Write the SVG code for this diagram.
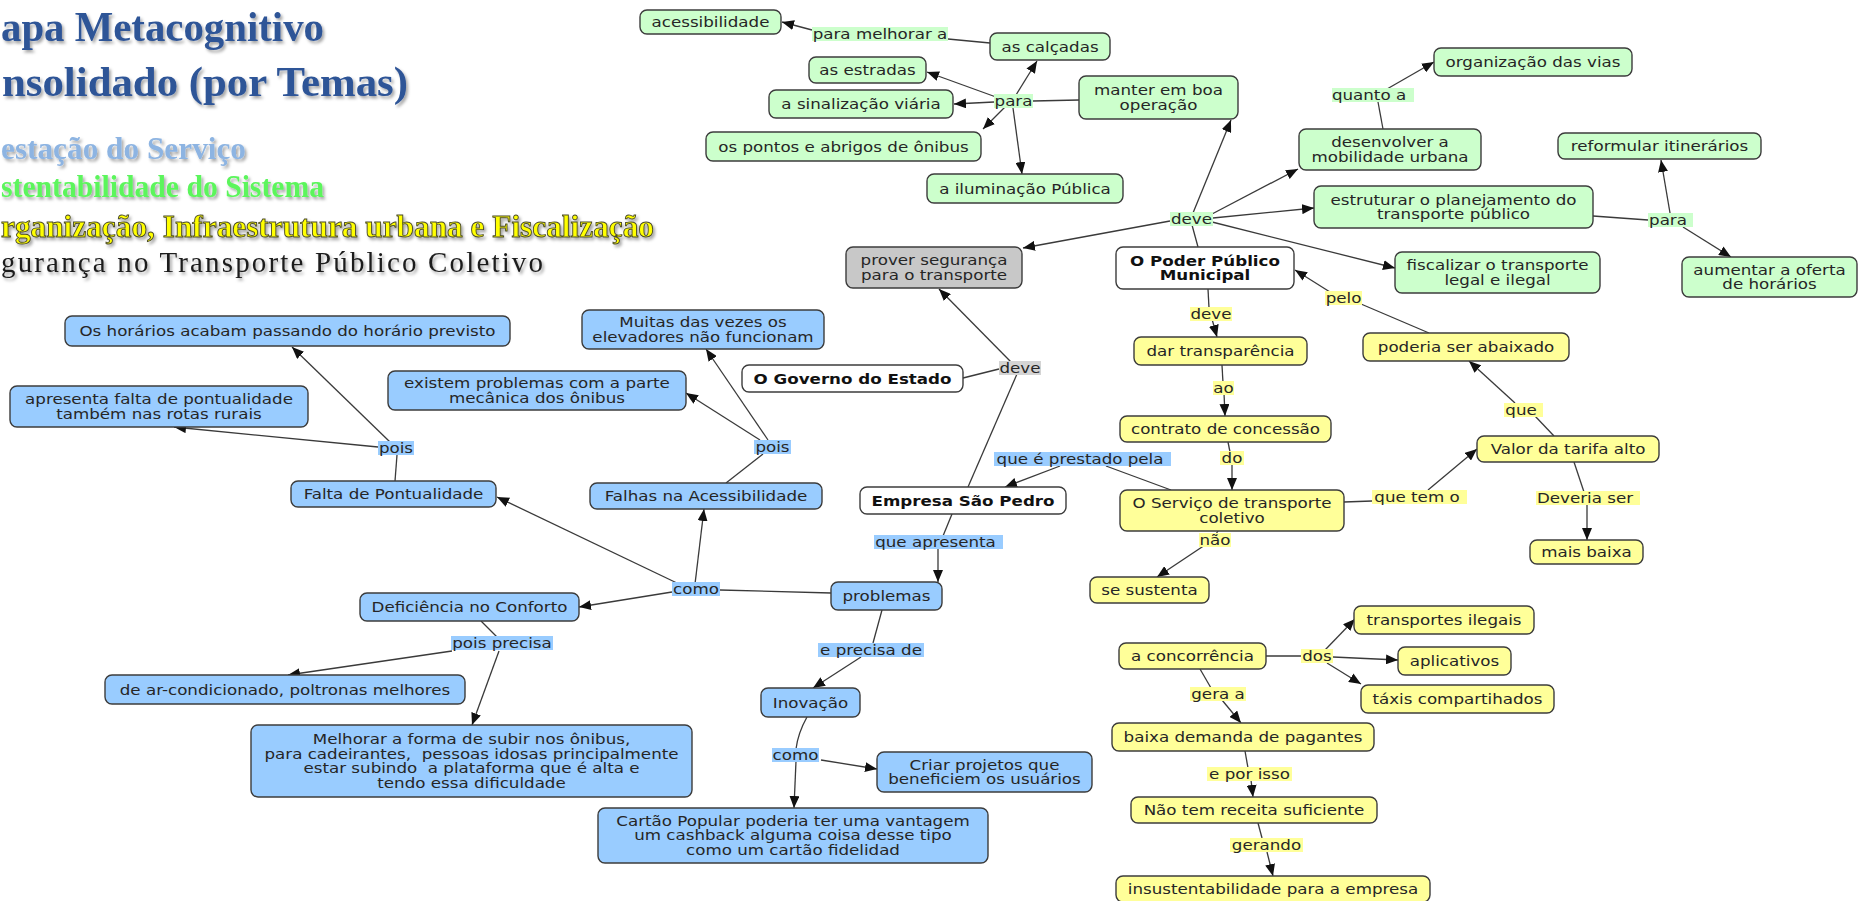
<svg xmlns="http://www.w3.org/2000/svg" width="1861" height="901" viewBox="0 0 1861 901">
<defs>
  <marker id="ah" viewBox="0 0 12 10" refX="12" refY="5" markerWidth="12" markerHeight="10" markerUnits="userSpaceOnUse" orient="auto">
    <path d="M0,0L12,5L0,10z" fill="#111"/>
  </marker>
  <filter id="sh" x="-5%" y="-20%" width="110%" height="150%">
    <feDropShadow dx="2" dy="2.5" stdDeviation="1.5" flood-color="#000" flood-opacity="0.35"/>
  </filter>
  <style>
    .hd{font-family:"Liberation Serif","Times New Roman",serif;font-weight:bold}
    .nd{stroke:#3c3c3c;stroke-width:1.4}
    .g{fill:#ccffcc}.y{fill:#ffff99}.b{fill:#99ccff}.w{fill:#ffffff}.gr{fill:#c8c8c8}
    .lg{fill:#ccffcc}.ly{fill:#ffff99}.lb{fill:#99ccff}.lgr{fill:#d4d4d4}
    .t{font-family:"DejaVu Sans",Verdana,sans-serif;font-size:14.4px;fill:#262626;text-anchor:middle}
    .bd{font-weight:bold;fill:#111}
    #connectors path{fill:none;stroke:#3a3a3a;stroke-width:1.3}
    #connectors .a{marker-end:url(#ah)}
  </style>
</defs>
<rect width="1861" height="901" fill="#ffffff"/>

<!-- heading and theme legend -->
<g id="title" class="hd" filter="url(#sh)" fill="#2f5597" font-size="42">
  <text x="1" y="41" textLength="323" lengthAdjust="spacingAndGlyphs">apa Metacognitivo</text>
  <text x="2" y="96" textLength="406" lengthAdjust="spacingAndGlyphs">nsolidado (por Temas)</text>
</g>
<g id="legend" class="hd" filter="url(#sh)">
  <text x="1" y="159" font-size="31" fill="#8db4e2" textLength="245" lengthAdjust="spacingAndGlyphs">estação do Serviço</text>
  <text x="1" y="197" font-size="31" fill="#5cf55c" textLength="323" lengthAdjust="spacingAndGlyphs">stentabilidade do Sistema</text>
  <text x="1" y="237" font-size="31" fill="#ffff00" stroke="#4a4a2a" stroke-width="0.9" textLength="653" lengthAdjust="spacingAndGlyphs">rganização, Infraestrutura urbana e Fiscalização</text>
  <text x="1" y="272" font-size="29" font-weight="normal" fill="#1e1e1e" textLength="542" lengthAdjust="spacing">gurança no Transporte Público Coletivo</text>
</g>

<!-- connectors: source node to linking phrase, linking phrase to target -->
<g id="connectors">
  <path d="M990,43L948,39"/><path class="a" d="M812,30L782,22"/>
  <path d="M1079,100L1033,101"/>
  <path class="a" d="M1016,95L1037,61"/>
  <path class="a" d="M996,97L927,72"/>
  <path class="a" d="M994,102L954,104"/>
  <path class="a" d="M1005,107L983,129"/>
  <path class="a" d="M1013,108L1022,174"/>
  <path d="M1198,247L1192,225"/>
  <path class="a" d="M1193,213L1231,120"/>
  <path class="a" d="M1212,214L1298,169"/>
  <path class="a" d="M1213,218L1314,208"/>
  <path class="a" d="M1212,222L1395,268"/>
  <path class="a" d="M1170,221L1023,248"/>
  <path d="M1383,129L1378,102"/><path class="a" d="M1387,89L1434,62"/>
  <path d="M1593,216L1648,220"/>
  <path class="a" d="M1670,213L1661,160"/>
  <path class="a" d="M1683,227L1731,257"/>
  <path d="M963,378L999,369"/>
  <path class="a" d="M1011,362L939,289"/>
  <path d="M1017,374L968,487"/>
  <path d="M1429,333L1361,304"/><path class="a" d="M1330,292L1295,270"/>
  <path d="M1208,289L1209,308"/><path class="a" d="M1212,319L1217,337"/>
  <path d="M1222,365L1223,383"/><path class="a" d="M1224,393L1225,416"/>
  <path d="M1228,442L1230,452"/><path class="a" d="M1232,463L1232,490"/>
  <path d="M1218,531L1216,534"/><path class="a" d="M1205,545L1157,577"/>
  <path d="M1171,490L1106,466"/><path class="a" d="M1060,466L1005,487"/>
  <path d="M1344,502L1372,501"/><path class="a" d="M1428,490L1477,449"/>
  <path d="M1554,436L1535,416"/><path class="a" d="M1515,403L1469,361"/>
  <path d="M1574,462L1584,492"/><path class="a" d="M1587,503L1587,540"/>
  <path d="M1266,656L1301,656"/>
  <path class="a" d="M1325,650L1355,619"/>
  <path class="a" d="M1333,657L1398,660"/>
  <path class="a" d="M1327,663L1361,684"/>
  <path d="M1200,669L1211,688"/><path class="a" d="M1222,700L1241,723"/>
  <path d="M1245,751L1248,768"/><path class="a" d="M1251,780L1253,797"/>
  <path d="M1258,823L1262,838"/><path class="a" d="M1267,852L1273,876"/>
  <path d="M952,514L943,536"/><path class="a" d="M938,548L938,582"/>
  <path d="M831,593L720,590"/>
  <path class="a" d="M695,584L704,509"/>
  <path class="a" d="M679,584L497,497"/>
  <path class="a" d="M672,592L579,607"/>
  <path d="M395,481L397,455"/>
  <path class="a" d="M390,442L292,347"/>
  <path class="a" d="M378,447L174,427"/>
  <path d="M726,483L763,454"/>
  <path class="a" d="M768,440L706,349"/>
  <path class="a" d="M760,440L686,393"/>
  <path d="M481,621L497,637"/>
  <path class="a" d="M452,651L288,675"/>
  <path class="a" d="M499,651L472,725"/>
  <path d="M882,610L873,643"/><path class="a" d="M861,657L813,688"/>
  <path d="M807,717Q798,733 796,749"/>
  <path class="a" d="M796,761L794,808"/>
  <path class="a" d="M821,760L877,769"/>
</g>

<!-- concepts: infrastructure and planning -->
<g id="n-acessibilidade"><rect class="nd g" x="640" y="10" width="141" height="24" rx="7"/><text class="t" transform="translate(710.5,27) scale(1.16,1)">acessibilidade</text></g>
<g id="n-calcadas"><rect class="nd g" x="990" y="33" width="120" height="27" rx="7"/><text class="t" transform="translate(1050,51.5) scale(1.16,1)">as calçadas</text></g>
<g id="n-estradas"><rect class="nd g" x="809" y="57" width="117" height="26" rx="7"/><text class="t" transform="translate(867.5,75) scale(1.16,1)">as estradas</text></g>
<g id="n-sinalizacao"><rect class="nd g" x="769" y="90" width="184" height="28" rx="7"/><text class="t" transform="translate(861,109) scale(1.16,1)">a sinalização viária</text></g>
<g id="n-manter"><rect class="nd g" x="1079" y="76" width="159" height="43" rx="7"/><text class="t" transform="translate(1158.5,95.25) scale(1.16,1)"><tspan x="0">manter em boa</tspan><tspan x="0" dy="14.5">operação</tspan></text></g>
<g id="n-pontos"><rect class="nd g" x="706" y="132" width="275" height="29" rx="7"/><text class="t" transform="translate(843.5,151.5) scale(1.16,1)">os pontos e abrigos de ônibus</text></g>
<g id="n-iluminacao"><rect class="nd g" x="927" y="174" width="196" height="29" rx="7"/><text class="t" transform="translate(1025,193.5) scale(1.16,1)">a iluminação Pública</text></g>
<g id="n-organizacao"><rect class="nd g" x="1434" y="48" width="198" height="28" rx="7"/><text class="t" transform="translate(1533,67) scale(1.16,1)">organização das vias</text></g>
<g id="n-desenvolver"><rect class="nd g" x="1299" y="129" width="182" height="41" rx="7"/><text class="t" transform="translate(1390,147.25) scale(1.16,1)"><tspan x="0">desenvolver a</tspan><tspan x="0" dy="14.5">mobilidade urbana</tspan></text></g>
<g id="n-reformular"><rect class="nd g" x="1558" y="133" width="203" height="26" rx="7"/><text class="t" transform="translate(1659.5,151) scale(1.16,1)">reformular itinerários</text></g>
<g id="n-estruturar"><rect class="nd g" x="1314" y="186" width="279" height="42" rx="7"/><text class="t" transform="translate(1453.5,204.75) scale(1.16,1)"><tspan x="0">estruturar o planejamento do</tspan><tspan x="0" dy="14.5">transporte público</tspan></text></g>
<g id="n-aumentar"><rect class="nd g" x="1682" y="257" width="175" height="40" rx="7"/><text class="t" transform="translate(1769.5,274.75) scale(1.16,1)"><tspan x="0">aumentar a oferta</tspan><tspan x="0" dy="14.5">de horários</tspan></text></g>
<g id="n-fiscalizar"><rect class="nd g" x="1395" y="252" width="205" height="41" rx="7"/><text class="t" transform="translate(1497.5,270.25) scale(1.16,1)"><tspan x="0">fiscalizar o transporte</tspan><tspan x="0" dy="14.5">legal e ilegal</tspan></text></g>

<!-- actors -->
<g id="n-poder-publico"><rect class="nd w" x="1116" y="247" width="178" height="42" rx="7"/><text class="t bd" transform="translate(1205,265.75) scale(1.16,1)"><tspan x="0">O Poder Público</tspan><tspan x="0" dy="14.5">Municipal</tspan></text></g>
<g id="n-governo"><rect class="nd w" x="742" y="365" width="221" height="27" rx="7"/><text class="t bd" transform="translate(852.5,383.5) scale(1.16,1)">O Governo do Estado</text></g>
<g id="n-empresa"><rect class="nd w" x="860" y="487" width="206" height="27" rx="7"/><text class="t bd" transform="translate(963,505.5) scale(1.16,1)">Empresa São Pedro</text></g>
<g id="n-seguranca"><rect class="nd gr" x="846" y="247" width="176" height="41" rx="7"/><text class="t" transform="translate(934,265.25) scale(1.16,1)"><tspan x="0">prover segurança</tspan><tspan x="0" dy="14.5">para o transporte</tspan></text></g>

<!-- concepts: sustainability of the system -->
<g id="n-transparencia"><rect class="nd y" x="1134" y="337" width="173" height="28" rx="7"/><text class="t" transform="translate(1220.5,356) scale(1.16,1)">dar transparência</text></g>
<g id="n-contrato"><rect class="nd y" x="1120" y="416" width="211" height="26" rx="7"/><text class="t" transform="translate(1225.5,434) scale(1.16,1)">contrato de concessão</text></g>
<g id="n-servico"><rect class="nd y" x="1120" y="490" width="224" height="41" rx="7"/><text class="t" transform="translate(1232,508.25) scale(1.16,1)"><tspan x="0">O Serviço de transporte</tspan><tspan x="0" dy="14.5">coletivo</tspan></text></g>
<g id="n-sustenta"><rect class="nd y" x="1090" y="577" width="119" height="26" rx="7"/><text class="t" transform="translate(1149.5,595) scale(1.16,1)">se sustenta</text></g>
<g id="n-abaixado"><rect class="nd y" x="1363" y="333" width="206" height="28" rx="7"/><text class="t" transform="translate(1466,352) scale(1.16,1)">poderia ser abaixado</text></g>
<g id="n-tarifa"><rect class="nd y" x="1477" y="436" width="182" height="26" rx="7"/><text class="t" transform="translate(1568,454) scale(1.16,1)">Valor da tarifa alto</text></g>
<g id="n-mais-baixa"><rect class="nd y" x="1530" y="540" width="113" height="24" rx="7"/><text class="t" transform="translate(1586.5,557) scale(1.16,1)">mais baixa</text></g>
<g id="n-concorrencia"><rect class="nd y" x="1119" y="643" width="147" height="26" rx="7"/><text class="t" transform="translate(1192.5,661) scale(1.16,1)">a concorrência</text></g>
<g id="n-ilegais"><rect class="nd y" x="1354" y="606" width="180" height="28" rx="7"/><text class="t" transform="translate(1444,625) scale(1.16,1)">transportes ilegais</text></g>
<g id="n-aplicativos"><rect class="nd y" x="1398" y="647" width="113" height="28" rx="7"/><text class="t" transform="translate(1454.5,666) scale(1.16,1)">aplicativos</text></g>
<g id="n-taxis"><rect class="nd y" x="1361" y="685" width="193" height="28" rx="7"/><text class="t" transform="translate(1457.5,704) scale(1.16,1)">táxis compartihados</text></g>
<g id="n-demanda"><rect class="nd y" x="1112" y="723" width="262" height="28" rx="7"/><text class="t" transform="translate(1243,742) scale(1.16,1)">baixa demanda de pagantes</text></g>
<g id="n-receita"><rect class="nd y" x="1131" y="797" width="246" height="26" rx="7"/><text class="t" transform="translate(1254,815) scale(1.16,1)">Não tem receita suficiente</text></g>
<g id="n-insustentabilidade"><rect class="nd y" x="1116" y="876" width="314" height="26" rx="7"/><text class="t" transform="translate(1273,894) scale(1.16,1)">insustentabilidade para a empresa</text></g>

<!-- concepts: service delivery -->
<g id="n-horarios"><rect class="nd b" x="65" y="316" width="445" height="30" rx="7"/><text class="t" transform="translate(287.5,336) scale(1.16,1)">Os horários acabam passando do horário previsto</text></g>
<g id="n-rotas-rurais"><rect class="nd b" x="10" y="386" width="298" height="41" rx="7"/><text class="t" transform="translate(159,404.25) scale(1.16,1)"><tspan x="0">apresenta falta de pontualidade</tspan><tspan x="0" dy="14.5">também nas rotas rurais</tspan></text></g>
<g id="n-pontualidade"><rect class="nd b" x="291" y="481" width="205" height="26" rx="7"/><text class="t" transform="translate(393.5,499) scale(1.16,1)">Falta de Pontualidade</text></g>
<g id="n-elevadores"><rect class="nd b" x="582" y="310" width="242" height="39" rx="7"/><text class="t" transform="translate(703,327.25) scale(1.16,1)"><tspan x="0">Muitas das vezes os</tspan><tspan x="0" dy="14.5">elevadores não funcionam</tspan></text></g>
<g id="n-mecanica"><rect class="nd b" x="388" y="371" width="298" height="39" rx="7"/><text class="t" transform="translate(537,388.25) scale(1.16,1)"><tspan x="0">existem problemas com a parte</tspan><tspan x="0" dy="14.5">mecânica dos ônibus</tspan></text></g>
<g id="n-acessibilidade-falhas"><rect class="nd b" x="590" y="483" width="232" height="26" rx="7"/><text class="t" transform="translate(706,501) scale(1.16,1)">Falhas na Acessibilidade</text></g>
<g id="n-problemas"><rect class="nd b" x="831" y="582" width="111" height="28" rx="7"/><text class="t" transform="translate(886.5,601) scale(1.16,1)">problemas</text></g>
<g id="n-conforto"><rect class="nd b" x="360" y="593" width="219" height="28" rx="7"/><text class="t" transform="translate(469.5,612) scale(1.16,1)">Deficiência no Conforto</text></g>
<g id="n-ar-condicionado"><rect class="nd b" x="105" y="675" width="360" height="29" rx="7"/><text class="t" transform="translate(285,694.5) scale(1.16,1)">de ar-condicionado, poltronas melhores</text></g>
<g id="n-subir"><rect class="nd b" x="251" y="725" width="441" height="72" rx="7"/><text class="t" transform="translate(471.5,744.25) scale(1.16,1)" xml:space="preserve"><tspan x="0">Melhorar a forma de subir nos ônibus,</tspan><tspan x="0" dy="14.5">para cadeirantes,  pessoas idosas principalmente</tspan><tspan x="0" dy="14.5">estar subindo  a plataforma que é alta e</tspan><tspan x="0" dy="14.5">tendo essa dificuldade</tspan></text></g>
<g id="n-inovacao"><rect class="nd b" x="761" y="688" width="99" height="29" rx="7"/><text class="t" transform="translate(810.5,707.5) scale(1.16,1)">Inovação</text></g>
<g id="n-projetos"><rect class="nd b" x="877" y="752" width="215" height="40" rx="7"/><text class="t" transform="translate(984.5,769.75) scale(1.16,1)"><tspan x="0">Criar projetos que</tspan><tspan x="0" dy="14.5">beneficiem os usuários</tspan></text></g>
<g id="n-cartao"><rect class="nd b" x="598" y="808" width="390" height="55" rx="7"/><text class="t" transform="translate(793,826) scale(1.16,1)"><tspan x="0">Cartão Popular poderia ter uma vantagem</tspan><tspan x="0" dy="14.5">um cashback alguma coisa desse tipo</tspan><tspan x="0" dy="14.5">como um cartão fidelidad</tspan></text></g>

<!-- linking phrases -->
<g id="l-para-melhorar"><rect class="lg" x="812" y="27" width="136" height="14"/><text class="t" transform="translate(880,39) scale(1.16,1)">para melhorar a</text></g>
<g id="l-para-1"><rect class="lg" x="994" y="94" width="39" height="14"/><text class="t" transform="translate(1013.5,106) scale(1.16,1)">para</text></g>
<g id="l-deve-1"><rect class="lg" x="1170" y="212" width="43" height="14"/><text class="t" transform="translate(1191.5,224) scale(1.16,1)">deve</text></g>
<g id="l-quanto"><rect class="lg" x="1332" y="88" width="82" height="14"/><text class="t" transform="translate(1369,100) scale(1.16,1)">quanto a</text></g>
<g id="l-para-2"><rect class="lg" x="1648" y="213" width="45" height="14"/><text class="t" transform="translate(1668,225) scale(1.16,1)">para</text></g>
<g id="l-deve-2"><rect class="lgr" x="999" y="361" width="42" height="14"/><text class="t" transform="translate(1020,373) scale(1.16,1)">deve</text></g>
<g id="l-pelo"><rect class="ly" x="1325" y="291" width="37" height="14"/><text class="t" transform="translate(1343.5,303) scale(1.16,1)">pelo</text></g>
<g id="l-deve-3"><rect class="ly" x="1190" y="307" width="42" height="14"/><text class="t" transform="translate(1211,319) scale(1.16,1)">deve</text></g>
<g id="l-ao"><rect class="ly" x="1213" y="381" width="21" height="14"/><text class="t" transform="translate(1223.5,393) scale(1.16,1)">ao</text></g>
<g id="l-do"><rect class="ly" x="1220" y="451" width="24" height="14"/><text class="t" transform="translate(1232,463) scale(1.16,1)">do</text></g>
<g id="l-prestado"><rect class="lb" x="994" y="452" width="177" height="14"/><text class="t" transform="translate(1080,464) scale(1.16,1)">que é prestado pela</text></g>
<g id="l-nao"><rect class="ly" x="1199" y="533" width="32" height="14"/><text class="t" transform="translate(1215,545) scale(1.16,1)">não</text></g>
<g id="l-tem"><rect class="ly" x="1372" y="490" width="95" height="14"/><text class="t" transform="translate(1417,502) scale(1.16,1)">que tem o</text></g>
<g id="l-que"><rect class="ly" x="1504" y="403" width="39" height="14"/><text class="t" transform="translate(1521,415) scale(1.16,1)">que</text></g>
<g id="l-deveria"><rect class="ly" x="1536" y="491" width="104" height="14"/><text class="t" transform="translate(1585,503) scale(1.16,1)">Deveria ser</text></g>
<g id="l-dos"><rect class="ly" x="1301" y="649" width="32" height="14"/><text class="t" transform="translate(1317,661) scale(1.16,1)">dos</text></g>
<g id="l-gera"><rect class="ly" x="1190" y="687" width="56" height="14"/><text class="t" transform="translate(1218,699) scale(1.16,1)">gera a</text></g>
<g id="l-por-isso"><rect class="ly" x="1207" y="767" width="85" height="14"/><text class="t" transform="translate(1249.5,779) scale(1.16,1)">e por isso</text></g>
<g id="l-gerando"><rect class="ly" x="1230" y="838" width="73" height="14"/><text class="t" transform="translate(1266.5,850) scale(1.16,1)">gerando</text></g>
<g id="l-apresenta"><rect class="lb" x="874" y="535" width="129" height="14"/><text class="t" transform="translate(935.5,547) scale(1.16,1)">que apresenta</text></g>
<g id="l-como-1"><rect class="lb" x="672" y="582" width="48" height="14"/><text class="t" transform="translate(696,594) scale(1.16,1)">como</text></g>
<g id="l-pois-1"><rect class="lb" x="378" y="441" width="36" height="14"/><text class="t" transform="translate(396,453) scale(1.16,1)">pois</text></g>
<g id="l-pois-2"><rect class="lb" x="754" y="440" width="37" height="14"/><text class="t" transform="translate(772.5,452) scale(1.16,1)">pois</text></g>
<g id="l-pois-precisa"><rect class="lb" x="451" y="636" width="102" height="14"/><text class="t" transform="translate(502,648) scale(1.16,1)">pois precisa</text></g>
<g id="l-precisa-de"><rect class="lb" x="818" y="643" width="106" height="14"/><text class="t" transform="translate(871,655) scale(1.16,1)">e precisa de</text></g>
<g id="l-como-2"><rect class="lb" x="772" y="748" width="47" height="14"/><text class="t" transform="translate(795.5,760) scale(1.16,1)">como</text></g>
</svg>
